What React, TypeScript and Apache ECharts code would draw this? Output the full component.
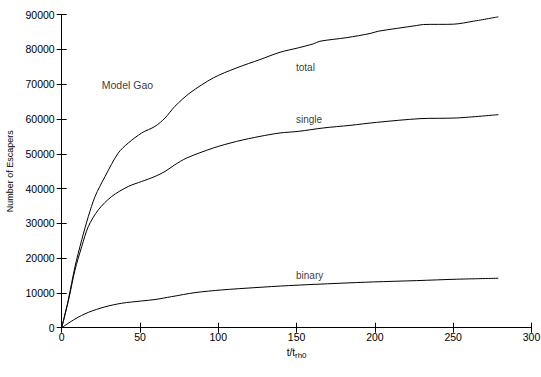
import React, { useEffect, useRef } from "react";
import * as echarts from "echarts";

// Time (t / t_rh0) and cumulative number of escapers
const totalT = [0, 4.2, 8.5, 12.8, 17, 21.3, 27.7, 36.1, 42.5, 51.1, 59.6, 66, 72.3, 81.9, 96.8, 111.7, 126.6, 139.4, 151.1, 160.7, 164.9, 182, 196.9, 202.2, 226.7, 231, 250.1, 262.9, 278.8];
const totalN = [0, 7980, 17570, 25260, 31970, 37730, 43490, 50220, 53100, 55990, 57890, 60300, 63650, 67510, 71830, 74710, 77100, 79200, 80470, 81620, 82370, 83400, 84590, 85250, 86890, 87180, 87270, 88130, 89390];

const singleT = [0, 4.2, 8.5, 12.8, 17, 23.4, 31.9, 42.5, 51.1, 59.6, 66, 72.3, 79.8, 96.8, 111.7, 126.6, 139.4, 151.1, 167, 184.1, 201.1, 228.8, 252.2, 278.8];
const singleN = [0, 7600, 16600, 23330, 29090, 33900, 37730, 40610, 42050, 43490, 44930, 46860, 48790, 51670, 53570, 55010, 55990, 56450, 57430, 58180, 59040, 60110, 60310, 61260];

const binaryT = [0, 8.5, 17, 27.7, 38.3, 51.1, 59.6, 70.2, 85.1, 102.2, 123.4, 144.7, 177.7, 199, 226.7, 252.2, 278.8];
const binaryN = [0, 2500, 4400, 6000, 7030, 7690, 8100, 8930, 10080, 10860, 11520, 12100, 12780, 13160, 13540, 13940, 14220];

// Annotation texts and their anchors in data coordinates
const labelTexts = ["total", "single", "binary"];
const labelT = [149.6, 149.6, 149.6];
const labelN = [74800, 59800, 14900];
const titleText = "Model Gao";
const titleAt = [42, 69900];

const FONT = "Liberation Sans";

function pairs(xs: number[], ys: number[]) {
  return xs.map((x, i) => [x, ys[i]]);
}

export default function App() {
  const ref = useRef<HTMLDivElement>(null);
  useEffect(() => {
    if (!ref.current) return;
    const chart = echarts.init(ref.current, undefined, { renderer: "svg" });
    const lineStyle = { color: "#000", width: 1 };
    const axisLine = { show: true, lineStyle: { color: "#000", width: 1 } };
    const axisTick = { show: true, inside: true, length: 5, lineStyle: { color: "#000", width: 1 } };
    const mkLine = (name: string, xs: number[], ys: number[]) => ({
      type: "line",
      name,
      data: pairs(xs, ys),
      showSymbol: false,
      symbol: "none",
      smooth: 0.3,
      lineStyle,
      itemStyle: { color: "#000" },
    });
    chart.setOption({
      animation: false,
      backgroundColor: "#fff",
      grid: { left: 61.7, right: 9.5, top: 14.7, bottom: 49.3, containLabel: false, outerBoundsMode: "none" },
      xAxis: [
        {
          type: "value",
          min: 0,
          max: 300,
          interval: 50,
          position: "bottom",
          axisLine,
          axisTick,
          splitLine: { show: false },
          axisLabel: { color: "#000", fontSize: 10.5, fontFamily: FONT, margin: 4, formatter: (v: number) => String(v) },
          name: "t/t{s|rh0}",
          nameLocation: "middle",
          nameGap: 18,
          nameTextStyle: {
            color: "#000",
            fontSize: 10,
            fontFamily: FONT,
            rich: { s: { fontSize: 8, fontFamily: FONT, color: "#000", padding: [6, 0, 0, 0] } },
          },
        },
        {
          type: "value",
          min: 0,
          max: 300,
          interval: 50,
          position: "top",
          axisLine,
          axisTick,
          splitLine: { show: false },
          axisLabel: { show: false },
        },
      ],
      yAxis: [
        {
          type: "value",
          min: 0,
          max: 90000,
          interval: 10000,
          position: "left",
          axisLine,
          axisTick,
          splitLine: { show: false },
          axisLabel: { color: "#000", fontSize: 10.5, fontFamily: FONT, margin: 7, formatter: (v: number) => String(v) },
          name: "Number of Escapers",
          nameLocation: "middle",
          nameGap: 46,
          nameRotate: 90,
          nameTextStyle: { color: "#000", fontSize: 9, fontFamily: FONT },
        },
        {
          type: "value",
          min: 0,
          max: 90000,
          interval: 10000,
          position: "right",
          axisLine,
          axisTick,
          splitLine: { show: false },
          axisLabel: { show: false },
        },
      ],
      series: [
        mkLine("total", totalT, totalN),
        mkLine("single", singleT, singleN),
        mkLine("binary", binaryT, binaryN),
        {
          type: "scatter",
          symbolSize: 0,
          silent: true,
          data: labelTexts.map((t, i) => ({ value: [labelT[i], labelN[i]], name: t })),
          label: {
            show: true,
            position: "right",
            distance: 0,
            formatter: (p: any) => p.name,
            color: "#000",
            fontSize: 10,
            fontFamily: FONT,
          },
        },
        {
          type: "scatter",
          symbolSize: 0,
          silent: true,
          data: [{ value: titleAt, name: titleText }],
          label: {
            show: true,
            position: "inside",
            formatter: (p: any) => p.name,
            color: "#000",
            fontSize: 10.5,
            fontFamily: FONT,
          },
        },
      ],
    });
    return () => chart.dispose();
  }, []);
  return (
    <div
      ref={ref}
      style={{ position: "absolute", left: 0, top: 0, width: 541, height: 377, background: "#fff" }}
    />
  );
}
